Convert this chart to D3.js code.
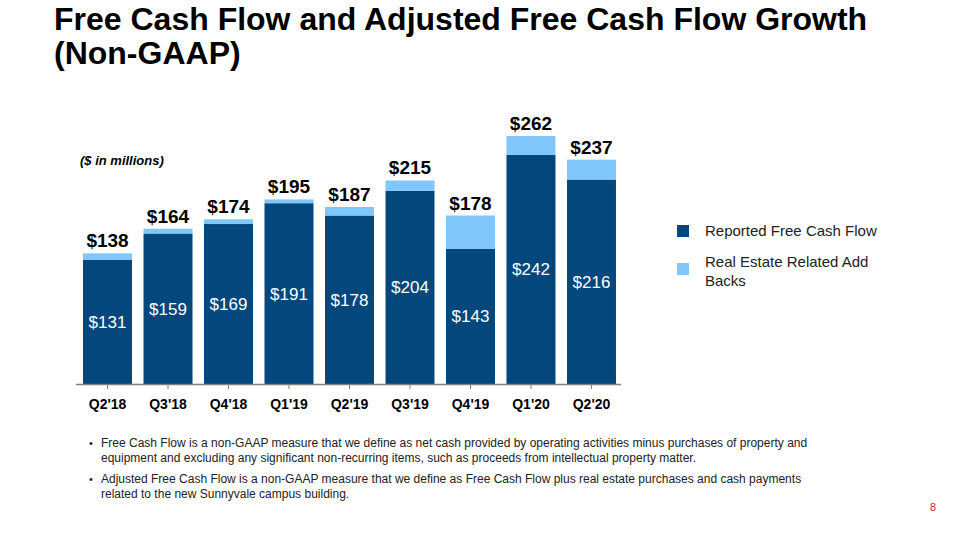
<!DOCTYPE html>
<html><head><meta charset="utf-8">
<script src="https://cdn.jsdelivr.net/npm/d3@7"></script>
<style>body{margin:0;background:#fff;} text{font-family:"Liberation Sans",Arial,sans-serif;}</style>
</head><body>
<svg id="c" width="960" height="540"></svg>
<script>
const categories = ["Q2'18","Q3'18","Q4'18","Q1'19","Q2'19","Q3'19","Q4'19","Q1'20","Q2'20"];
const reported = [131,159,169,191,178,204,143,242,216];
const totals = [138,164,174,195,187,215,178,262,237];
const addBacks = totals.map((t,i)=>t-reported[i]);
const seriesNames = ["Reported Free Cash Flow","Real Estate Related Add Backs"];
const colors = ["#03477d","#80c7fc"];

const svg = d3.select("#c");
svg.append("text").attr("x",54).attr("y",30).attr("font-size",32).attr("font-weight","bold").text("Free Cash Flow and Adjusted Free Cash Flow Growth");
svg.append("text").attr("x",54).attr("y",64).attr("font-size",32).attr("font-weight","bold").text("(Non-GAAP)");

const x = d3.scaleBand().domain(categories).range([76,623]).paddingInner(0.19).paddingOuter(0.116);
const y = d3.scaleLinear().domain([0,262]).range([384,136]);

const g = svg.append("g");
const stack = categories.map((c,i)=>({c, r:reported[i], a:addBacks[i], t:totals[i]}));
g.selectAll(".dark").data(stack).join("rect")
  .attr("x",d=>x(d.c)).attr("width",x.bandwidth())
  .attr("y",d=>y(d.r)).attr("height",d=>y(0)-y(d.r)).attr("fill",colors[0]);
g.selectAll(".light").data(stack).join("rect")
  .attr("x",d=>x(d.c)).attr("width",x.bandwidth())
  .attr("y",d=>y(d.t)).attr("height",d=>y(d.r)-y(d.t)).attr("fill",colors[1]);
g.selectAll(".in").data(stack).join("text")
  .attr("x",d=>x(d.c)+x.bandwidth()/2).attr("y",d=>(y(d.r)+y(0))/2+6)
  .attr("text-anchor","middle").attr("fill","#fff").attr("font-size",17).text(d=>"$"+d.r);
g.selectAll(".tot").data(stack).join("text")
  .attr("x",d=>x(d.c)+x.bandwidth()/2).attr("y",d=>y(d.t)-6)
  .attr("text-anchor","middle").attr("fill","#000").attr("font-size",19).attr("font-weight","bold").text(d=>"$"+d.t);

const ax = svg.append("g").attr("transform","translate(0,384)")
  .call(d3.axisBottom(x).tickSize(5).tickPadding(10).tickSizeOuter(0));
ax.select(".domain").attr("stroke","#808080").attr("stroke-width",1.5).attr("d","M76,0.5H621");
ax.selectAll(".tick line").attr("stroke","#808080");
ax.selectAll(".tick text").attr("font-size",14).attr("font-weight","bold").attr("fill","#000")
  .attr("font-family","Liberation Sans, Arial, sans-serif");

svg.append("text").attr("x",80).attr("y",165).attr("font-size",13).attr("font-weight","bold").attr("font-style","italic").text("($ in millions)");

// legend
const lg = svg.append("g");
lg.append("rect").attr("x",677).attr("y",225).attr("width",12).attr("height",12).attr("fill",colors[0]);
lg.append("rect").attr("x",677).attr("y",263).attr("width",12).attr("height",12).attr("fill",colors[1]);
lg.append("text").attr("x",705).attr("y",236).attr("font-size",15).attr("fill","#222").text(seriesNames[0]);
lg.append("text").attr("x",705).attr("y",267).attr("font-size",15).attr("fill","#222").text("Real Estate Related Add");
lg.append("text").attr("x",705).attr("y",286).attr("font-size",15).attr("fill","#222").text("Backs");

const notes = [
 ["Free Cash Flow is a non-GAAP measure that we define as net cash provided by operating activities minus purchases of property and","equipment and excluding any significant non-recurring items, such as proceeds from intellectual property matter."],
 ["Adjusted Free Cash Flow is a non-GAAP measure that we define as Free Cash Flow plus real estate purchases and cash payments","related to the new Sunnyvale campus building."]
];
const ny = [447, 483];
notes.forEach((n,i)=>{
  svg.append("text").attr("x",89).attr("y",ny[i]).attr("font-size",11).attr("fill","#222").text("•");
  n.forEach((l,j)=>svg.append("text").attr("x",101).attr("y",ny[i]+j*15).attr("font-size",12).attr("fill","#222").text(l));
});
svg.append("text").attr("x",933).attr("y",511).attr("font-size",11).attr("fill","#e0201b").attr("text-anchor","middle").text("8");
</script>
</body></html>
